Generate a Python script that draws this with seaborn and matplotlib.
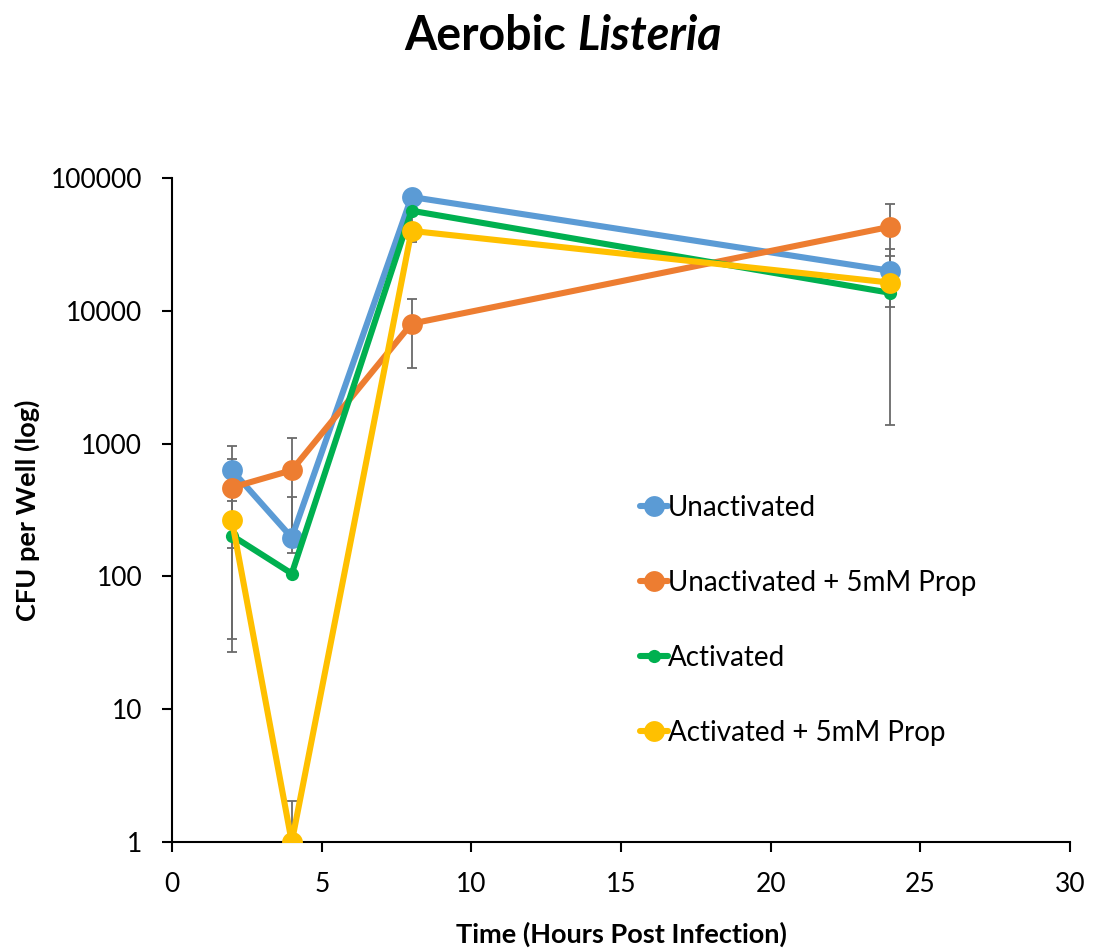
import numpy as np
import pandas as pd
import matplotlib
matplotlib.use("Agg")
import matplotlib.pyplot as plt
import seaborn as sns

# Data
hours = [2, 4, 8, 24]
series_names = ["Unactivated", "Unactivated + 5mM Prop", "Activated", "Activated + 5mM Prop"]
unactivated = [630, 196, 72000, 20000]
unactivated_prop = [467, 630, 8000, 43000]
activated = [203, 105, 56700, 13650]
activated_prop = [264, 1, 40000, 16300]

unactivated_err = [336, 197, 5000, 9400]
unactivated_prop_err = [304, 480, 4300, 20800]
activated_err = [169, 0, 24000, 12260]
activated_prop_err = [237, 1.03, 3000, 1500]

colors = ["#5B9BD5", "#ED7D31", "#00B050", "#FFC000"]
marker_sizes = [15, 15, 9.5, 15]

values = [unactivated, unactivated_prop, activated, activated_prop]
errors = [unactivated_err, unactivated_prop_err, activated_err, activated_prop_err]

df = pd.DataFrame({
    "time": hours * 4,
    "cfu": sum(values, []),
    "err": sum(errors, []),
    "group": [n for n in series_names for _ in hours],
})

sns.set_theme(style="white")
plt.rcParams["font.family"] = ["Lato", "DejaVu Sans"]
plt.rcParams.update({"text.color": "black", "axes.labelcolor": "black",
                     "xtick.color": "black", "ytick.color": "black"})

fig = plt.figure(figsize=(10.93, 9.49), dpi=100)
ax = fig.add_axes([0.1574, 0.1128, 0.8216, 0.6996])

for name, col, ms in zip(series_names, colors, marker_sizes):
    sub = df[df["group"] == name]
    lower = np.where(sub["err"].values >= sub["cfu"].values, 0, sub["err"].values)
    ax.errorbar(sub["time"], sub["cfu"], yerr=[lower, sub["err"].values],
                fmt="none", ecolor="#6a6a6a", elinewidth=1.3, capsize=3.5, capthick=1.3, zorder=1)
    sns.lineplot(data=sub, x="time", y="cfu", ax=ax, color=col, linewidth=4.4,
                 marker="o", markersize=ms, markeredgewidth=0, label=name, zorder=3)

ax.set_yscale("log")
ax.set_ylim(1, 100000)
ax.set_xlim(0, 30)
ax.set_xticks([0, 5, 10, 15, 20, 25, 30])
ax.set_yticks([1, 10, 100, 1000, 10000, 100000])
ax.set_yticklabels(["1", "10", "100", "1000", "10000", "100000"])
ax.minorticks_off()
ax.tick_params(axis="both", labelsize=19, length=7.5, width=1.5, direction="out",
               bottom=True, left=True, color="black", pad=14)
for side in ["top", "right"]:
    ax.spines[side].set_visible(False)
for side in ["left", "bottom"]:
    ax.spines[side].set_color("black")
    ax.spines[side].set_linewidth(1.5)

ax.set_xlabel("Time (Hours Post Infection)", fontsize=19.5, fontweight="bold", labelpad=18)
ax.set_ylabel("CFU per Well (log)", fontsize=19.5, fontweight="bold", labelpad=8)

fig.text(0.528, 0.962, "Aerobic ", fontsize=33.5, fontweight="bold", ha="right", va="center")
fig.text(0.528, 0.962, "Listeria", fontsize=33.5, fontweight="bold", style="italic", ha="left", va="center")

ax.legend(loc="upper left", bbox_to_anchor=(0.5755, 0.4905), bbox_transform=fig.transFigure,
          frameon=False, fontsize=20, handlelength=1.0, handletextpad=0.0,
          labelspacing=1.77, borderaxespad=0)

fig.savefig("out.png", dpi=100)
